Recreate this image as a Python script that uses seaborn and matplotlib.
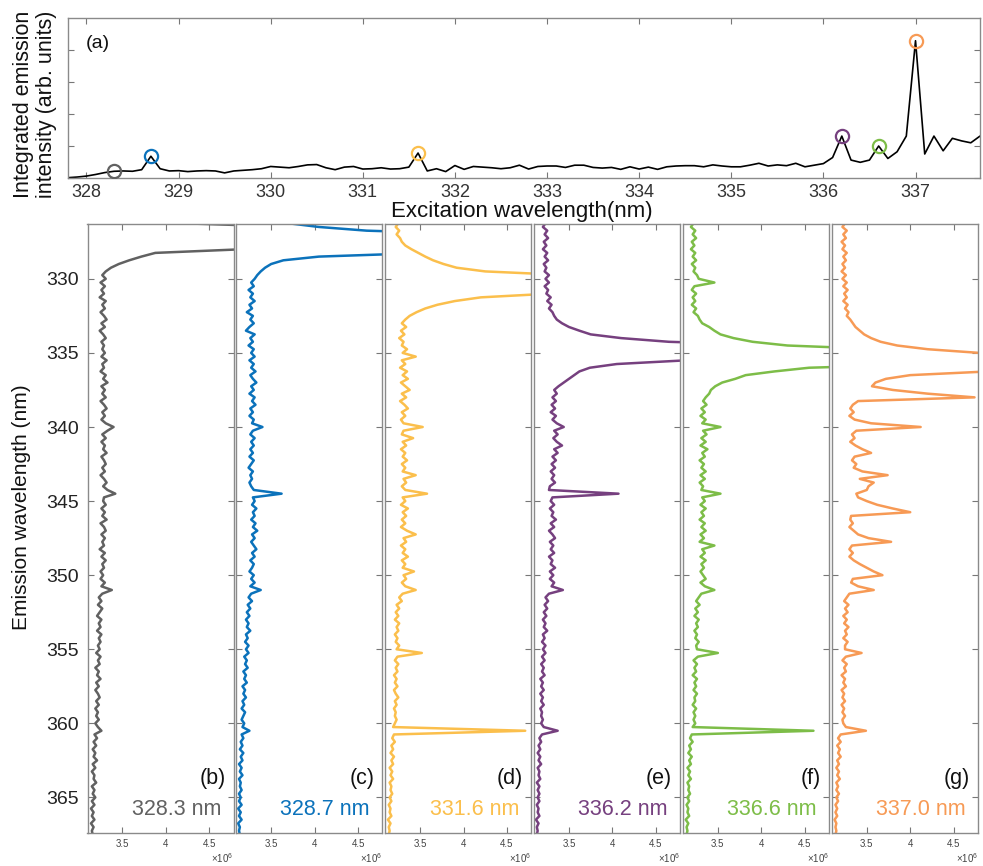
import numpy as np
import pandas as pd
import matplotlib
matplotlib.use("Agg")
import matplotlib.pyplot as plt
import seaborn as sns

# ---------------- data ----------------
# (a) integrated emission vs excitation wavelength (0.1 nm steps from 327.8 nm)
exc_start, exc_step = 327.8, 0.1
integrated = [
    0.01, 0.03, 0.06, 0.11, 0.17, 0.21, 0.22, 0.21, 0.26, 0.68,
    0.29, 0.22, 0.23, 0.20, 0.22, 0.23, 0.22, 0.16, 0.22, 0.24,
    0.26, 0.29, 0.36, 0.34, 0.32, 0.36, 0.41, 0.42, 0.32, 0.26,
    0.34, 0.36, 0.28, 0.29, 0.32, 0.28, 0.29, 0.34, 0.78, 0.22,
    0.29, 0.20, 0.39, 0.27, 0.36, 0.34, 0.32, 0.29, 0.32, 0.40,
    0.28, 0.36, 0.375, 0.375, 0.33, 0.40, 0.40, 0.33, 0.31, 0.33,
    0.27, 0.35, 0.28, 0.34, 0.27, 0.35, 0.375, 0.385, 0.385, 0.35,
    0.41, 0.375, 0.35, 0.35, 0.40, 0.46, 0.375, 0.41, 0.385, 0.46,
    0.35, 0.40, 0.45, 0.64, 1.31, 0.56, 0.49, 0.56, 1.00, 0.61,
    0.82, 1.31, 4.29, 0.75, 1.31, 0.85, 1.24, 1.16, 1.10, 1.31,
]

# (b)-(g) emission spectra, intensity in units of 1e6, 0.25 nm steps from 326.25 nm
em_start, em_step = 326.25, 0.25
spec_b = [
    4.20, 5.50, 6.00, 6.00, 6.00, 6.00, 6.00, 4.90, 3.88, 3.72, 3.58, 3.46, 3.37, 3.31, 3.27,
    3.31, 3.25, 3.30, 3.26, 3.29, 3.24, 3.31, 3.27, 3.30, 3.25, 3.29, 3.32, 3.26, 3.30, 3.24, 3.28, 3.31, 3.26, 3.29, 3.27,
    3.30, 3.26, 3.32, 3.27, 3.29, 3.25, 3.31, 3.28, 3.33, 3.26, 3.30, 3.27, 3.31, 3.25, 3.29, 3.32, 3.27, 3.30, 3.26, 3.31,
    3.40, 3.33, 3.27, 3.31, 3.26, 3.30, 3.28, 3.32, 3.26, 3.29, 3.31, 3.27, 3.30, 3.25, 3.29, 3.32, 3.28, 3.33, 3.42, 3.29,
    3.28, 3.31, 3.26, 3.30, 3.27, 3.32, 3.25, 3.29, 3.31, 3.26, 3.30, 3.27, 3.29, 3.24, 3.30, 3.26, 3.31, 3.27, 3.29, 3.25,
    3.28, 3.25, 3.30, 3.26, 3.38, 3.27, 3.23, 3.26, 3.22, 3.27, 3.24, 3.21, 3.26, 3.23, 3.25, 3.21, 3.26, 3.23, 3.25, 3.22,
    3.24, 3.20, 3.25, 3.22, 3.24, 3.19, 3.23, 3.21, 3.25, 3.20, 3.23, 3.19, 3.22, 3.24, 3.20, 3.23, 3.19, 3.22, 3.20, 3.23,
    3.19, 3.22, 3.26, 3.18, 3.21, 3.17, 3.20, 3.16, 3.19, 3.17, 3.21, 3.16, 3.19, 3.15, 3.18, 3.17, 3.20, 3.15, 3.18, 3.16,
    3.19, 3.15, 3.18, 3.14, 3.17, 3.15, 3.18, 3.14, 3.17, 3.15, 3.16,
]
spec_c = [
    3.70, 4.05, 4.60, 6.00, 6.00, 6.00, 6.00, 6.00, 5.30, 4.05, 3.64, 3.50, 3.43, 3.38, 3.34,
    3.31, 3.27, 3.30, 3.24, 3.29, 3.26, 3.31, 3.25, 3.28, 3.22, 3.29, 3.26, 3.30, 3.25, 3.21, 3.31, 3.26, 3.29, 3.24, 3.30,
    3.27, 3.31, 3.25, 3.30, 3.27, 3.32, 3.26, 3.29, 3.33, 3.27, 3.30, 3.25, 3.31, 3.28, 3.32, 3.26, 3.29, 3.25, 3.30, 3.28,
    3.40, 3.29, 3.26, 3.31, 3.27, 3.30, 3.26, 3.29, 3.25, 3.30, 3.27, 3.24, 3.29, 3.26, 3.28, 3.25, 3.27, 3.30, 3.62, 3.29,
    3.31, 3.28, 3.33, 3.29, 3.31, 3.27, 3.32, 3.29, 3.34, 3.28, 3.31, 3.27, 3.30, 3.33, 3.28, 3.31, 3.26, 3.30, 3.28, 3.25,
    3.30, 3.27, 3.31, 3.26, 3.38, 3.27, 3.24, 3.28, 3.23, 3.26, 3.22, 3.25, 3.21, 3.24, 3.22, 3.26, 3.21, 3.23, 3.20, 3.24,
    3.21, 3.24, 3.19, 3.22, 3.20, 3.23, 3.18, 3.21, 3.19, 3.22, 3.17, 3.20, 3.18, 3.21, 3.17, 3.19, 3.16, 3.20, 3.18, 3.16,
    3.19, 3.17, 3.25, 3.16, 3.18, 3.15, 3.17, 3.14, 3.18, 3.15, 3.17, 3.13, 3.16, 3.14, 3.17, 3.13, 3.15, 3.14, 3.16, 3.13,
    3.15, 3.13, 3.16, 3.12, 3.15, 3.13, 3.16, 3.12, 3.14, 3.13, 3.14,
]
spec_d = [
    3.25, 3.22, 3.26, 3.23, 3.27, 3.29, 3.33, 3.40, 3.48, 3.56, 3.65, 3.77, 3.92, 4.25, 5.20,
    6.00, 6.00, 6.00, 6.00, 5.00, 4.20, 3.90, 3.70, 3.56, 3.46, 3.38, 3.33, 3.29, 3.34, 3.28, 3.32, 3.26, 3.31, 3.29, 3.35,
    3.30, 3.45, 3.29, 3.33, 3.27, 3.35, 3.30, 3.36, 3.28, 3.33, 3.38, 3.29, 3.34, 3.27, 3.32, 3.36, 3.29, 3.33, 3.28, 3.31,
    3.53, 3.31, 3.29, 3.42, 3.30, 3.34, 3.28, 3.33, 3.30, 3.35, 3.29, 3.33, 3.30, 3.45, 3.31, 3.34, 3.29, 3.33, 3.58, 3.30,
    3.33, 3.28, 3.36, 3.30, 3.34, 3.29, 3.33, 3.28, 3.35, 3.45, 3.31, 3.34, 3.28, 3.33, 3.30, 3.36, 3.29, 3.33, 3.30, 3.43,
    3.31, 3.34, 3.29, 3.33, 3.45, 3.30, 3.26, 3.29, 3.23, 3.26, 3.22, 3.25, 3.21, 3.26, 3.23, 3.25, 3.21, 3.24, 3.22, 3.26,
    3.23, 3.52, 3.24, 3.21, 3.25, 3.22, 3.24, 3.20, 3.23, 3.21, 3.24, 3.20, 3.22, 3.25, 3.21, 3.23, 3.20, 3.22, 3.21, 3.23,
    3.21, 3.19, 4.71, 3.20, 3.18, 3.21, 3.17, 3.19, 3.16, 3.20, 3.17, 3.19, 3.15, 3.18, 3.16, 3.19, 3.15, 3.17, 3.16, 3.18,
    3.15, 3.17, 3.14, 3.16, 3.15, 3.17, 3.13, 3.16, 3.14, 3.15, 3.14,
]
spec_e = [
    3.23, 3.20, 3.25, 3.22, 3.26, 3.21, 3.24, 3.20, 3.25, 3.22, 3.26, 3.21, 3.24, 3.22, 3.27,
    3.23, 3.27, 3.22, 3.26, 3.24, 3.29, 3.25, 3.30, 3.27, 3.31, 3.33, 3.36, 3.42, 3.50, 3.62, 3.75, 4.10, 4.65, 6.00, 6.00,
    6.00, 6.00, 4.85, 4.05, 3.74, 3.62, 3.56, 3.50, 3.44, 3.38, 3.33, 3.36, 3.31, 3.35, 3.30, 3.34, 3.29, 3.35, 3.31, 3.36,
    3.44, 3.33, 3.37, 3.32, 3.36, 3.42, 3.33, 3.37, 3.31, 3.35, 3.30, 3.34, 3.29, 3.33, 3.30, 3.34, 3.28, 3.27, 4.07, 3.31,
    3.29, 3.33, 3.28, 3.32, 3.30, 3.35, 3.29, 3.33, 3.27, 3.31, 3.34, 3.28, 3.32, 3.29, 3.33, 3.27, 3.31, 3.29, 3.34, 3.28,
    3.32, 3.28, 3.33, 3.30, 3.43, 3.27, 3.23, 3.26, 3.22, 3.25, 3.21, 3.24, 3.20, 3.23, 3.21, 3.25, 3.20, 3.22, 3.19, 3.23,
    3.20, 3.23, 3.19, 3.22, 3.18, 3.21, 3.19, 3.22, 3.17, 3.20, 3.18, 3.21, 3.17, 3.20, 3.18, 3.21, 3.17, 3.19, 3.18, 3.20,
    3.18, 3.21, 3.37, 3.19, 3.16, 3.18, 3.15, 3.17, 3.14, 3.17, 3.15, 3.18, 3.14, 3.16, 3.15, 3.17, 3.13, 3.16, 3.14, 3.16,
    3.14, 3.16, 3.13, 3.15, 3.14, 3.16, 3.12, 3.15, 3.13, 3.14, 3.13,
]
spec_f = [
    3.22, 3.19, 3.24, 3.21, 3.25, 3.20, 3.23, 3.19, 3.24, 3.21, 3.25, 3.20, 3.24, 3.22, 3.26,
    3.28, 3.46, 3.23, 3.20, 3.25, 3.21, 3.24, 3.20, 3.25, 3.22, 3.27, 3.29, 3.32, 3.40, 3.46, 3.53, 3.68, 3.90, 4.30, 5.40,
    6.00, 6.00, 6.00, 6.00, 4.55, 4.15, 3.82, 3.70, 3.55, 3.47, 3.42, 3.40, 3.36, 3.33, 3.37, 3.31, 3.35, 3.30, 3.36, 3.32,
    3.53, 3.33, 3.37, 3.31, 3.36, 3.30, 3.38, 3.32, 3.35, 3.29, 3.34, 3.31, 3.36, 3.30, 3.35, 3.29, 3.33, 3.31, 3.53, 3.32,
    3.35, 3.30, 3.36, 3.31, 3.34, 3.29, 3.35, 3.31, 3.36, 3.30, 3.34, 3.29, 3.46, 3.32, 3.35, 3.30, 3.36, 3.31, 3.34, 3.30,
    3.33, 3.36, 3.30, 3.35, 3.46, 3.31, 3.28, 3.25, 3.29, 3.24, 3.27, 3.23, 3.28, 3.25, 3.27, 3.23, 3.26, 3.24, 3.28, 3.25,
    3.26, 3.50, 3.27, 3.22, 3.26, 3.23, 3.25, 3.21, 3.26, 3.23, 3.25, 3.22, 3.26, 3.23, 3.24, 3.21, 3.25, 3.22, 3.24, 3.22,
    3.24, 3.21, 4.60, 3.20, 3.18, 3.21, 3.17, 3.19, 3.16, 3.20, 3.17, 3.19, 3.15, 3.18, 3.16, 3.19, 3.15, 3.17, 3.16, 3.18,
    3.15, 3.17, 3.14, 3.16, 3.15, 3.17, 3.13, 3.16, 3.14, 3.15, 3.14,
]
spec_g = [
    3.25, 3.22, 3.27, 3.23, 3.26, 3.21, 3.25, 3.22, 3.27, 3.23, 3.26, 3.22, 3.25, 3.21, 3.26,
    3.22, 3.27, 3.23, 3.28, 3.24, 3.27, 3.23, 3.28, 3.25, 3.29, 3.27, 3.31, 3.34, 3.37, 3.42, 3.47, 3.55, 3.66, 3.85, 4.20,
    4.80, 6.00, 6.00, 6.00, 6.00, 4.90, 4.00, 3.72, 3.60, 3.56, 3.80, 4.20, 4.74, 3.40, 3.34, 3.31, 3.35, 3.30, 3.36, 3.55,
    4.12, 3.38, 3.33, 3.36, 3.31, 3.37, 3.45, 3.55, 3.36, 3.33, 3.38, 3.35, 3.45, 3.74, 3.42, 3.58, 3.52, 3.50, 3.38, 3.40,
    3.50, 3.62, 3.80, 4.00, 3.32, 3.31, 3.34, 3.30, 3.35, 3.40, 3.52, 3.78, 3.33, 3.30, 3.34, 3.30, 3.35, 3.42, 3.50, 3.58,
    3.68, 3.34, 3.32, 3.40, 3.58, 3.30, 3.27, 3.24, 3.29, 3.25, 3.28, 3.23, 3.27, 3.24, 3.29, 3.25, 3.27, 3.23, 3.28, 3.25,
    3.25, 3.44, 3.26, 3.22, 3.27, 3.24, 3.26, 3.21, 3.25, 3.23, 3.26, 3.21, 3.24, 3.22, 3.25, 3.21, 3.24, 3.22, 3.25, 3.22,
    3.23, 3.26, 3.49, 3.20, 3.17, 3.20, 3.16, 3.19, 3.17, 3.20, 3.16, 3.18, 3.15, 3.18, 3.16, 3.19, 3.15, 3.17, 3.15, 3.18,
    3.15, 3.17, 3.14, 3.16, 3.14, 3.16, 3.13, 3.15, 3.14, 3.15, 3.14,
]

panel_letters = ["(b)", "(c)", "(d)", "(e)", "(f)", "(g)"]
excitations = [328.3, 328.7, 331.6, 336.2, 336.6, 337.0]
panel_labels = ["328.3 nm", "328.7 nm", "331.6 nm", "336.2 nm", "336.6 nm", "337.0 nm"]
colors = ["#616161", "#0b72bb", "#fbbf4c", "#76407f", "#7dbd48", "#f79a55"]
spectra = [spec_b, spec_c, spec_d, spec_e, spec_f, spec_g]

x_ticks_top = list(range(328, 338))
em_ticks = list(range(330, 370, 5))
int_ticks = [3.5, 4.0, 4.5]
int_tick_labels = ["3.5", "4", "4.5"]

# ---------------- styling ----------------
sns.set_style("ticks")
plt.rcParams["font.family"] = ["Liberation Sans", "DejaVu Sans"]
plt.rcParams["mathtext.fontset"] = "custom"
plt.rcParams["mathtext.rm"] = "Liberation Sans"

SPINE = "#8a8a8a"
W, H = 983, 866
fig = plt.figure(figsize=(W / 100, H / 100), dpi=100)


def frac(left, top, width, height):
    return [left / W, 1 - (top + height) / H, width / W, height / H]


# ---------------- (a) ----------------
ax0 = fig.add_axes(frac(68, 18, 912, 160))
exc_wl = np.round(exc_start + exc_step * np.arange(len(integrated)), 1)
df_a = pd.DataFrame({"exc": exc_wl, "I": integrated})
sns.lineplot(data=df_a, x="exc", y="I", color="black", lw=1.2, ax=ax0)
for ex, col in zip(excitations, colors):
    val = df_a.loc[np.isclose(df_a["exc"], ex), "I"].iloc[0]
    ax0.plot([ex], [val], "o", mfc="none", mec=col, ms=9.5, mew=1.6, zorder=5)
ax0.set_xlim(327.8, 337.7)
ax0.set_ylim(0, 5)
ax0.set_xticks(x_ticks_top)
ax0.set_xticklabels([str(t) for t in x_ticks_top])
ax0.set_yticks([0, 1, 2, 3, 4])
ax0.set_yticklabels([])
ax0.set_xlabel("")
ax0.set_ylabel("")
ax0.tick_params(direction="in", length=4, width=0.8, color="#777777",
                top=True, right=True, labelsize=13, labelcolor="#333333", pad=4)
for s in ax0.spines.values():
    s.set_color(SPINE)
    s.set_linewidth(1.0)
ax0.text(0.0197, 0.84, "(a)", transform=ax0.transAxes, fontsize=14,
         ha="left", va="center", color="#111111")

fig.text(35 / W, 1 - 104 / H, "Integrated emission\nintensity (arb. units)",
         rotation=90, ha="center", va="center", fontsize=15.5,
         linespacing=1.15, multialignment="center", color="#111111")
fig.text(522 / W, 1 - 212 / H, "Excitation wavelength(nm)", ha="center",
         va="center", fontsize=16, color="#111111")
fig.text(22 / W, 1 - 507 / H, "Emission wavelength (nm)", rotation=90,
         ha="center", va="center", fontsize=15, color="#111111")

# ---------------- (b)-(g) ----------------
em_wl = em_start + em_step * np.arange(len(spec_b))
for i, (vals, col, letter, lab) in enumerate(zip(spectra, colors, panel_letters, panel_labels)):
    assert len(vals) == len(em_wl)
    ax = fig.add_axes(frac(87.5 + 148.9 * i, 224, 146, 609))
    df = pd.DataFrame({"wl": em_wl, "I": vals})
    sns.lineplot(data=df, x="I", y="wl", sort=False, estimator=None,
                 color=col, lw=1.8, ax=ax)
    ax.set_xlim(3.1, 4.78)
    ax.set_ylim(367.4, 326.3)
    ax.set_xticks(int_ticks)
    ax.set_xticklabels(int_tick_labels)
    ax.set_yticks(em_ticks)
    if i == 0:
        ax.set_yticklabels([str(t) for t in em_ticks])
    else:
        ax.set_yticklabels([])
    ax.set_xlabel("")
    ax.set_ylabel("")
    ax.tick_params(axis="x", direction="in", length=4, width=0.8, color="#777777",
                   top=True, labelsize=7, labelcolor="#444444", pad=4)
    ax.tick_params(axis="y", direction="in", length=4, width=0.8, color="#777777",
                   right=True, labelsize=14, labelcolor="#222222", pad=6)
    for s in ax.spines.values():
        s.set_color(SPINE)
        s.set_linewidth(1.0)
    ax.text(0.945, 0.09, letter, transform=ax.transAxes, fontsize=15.5,
            ha="right", va="center", color="#111111")
    ax.text(0.915, 0.039, lab, transform=ax.transAxes, fontsize=15.5,
            ha="right", va="center", color=col)
    ax.text(1.0, -0.041, r"$\times10^{6}$", transform=ax.transAxes, fontsize=7,
            ha="right", va="center", color="#444444")

fig.savefig("out.png", dpi=100)
